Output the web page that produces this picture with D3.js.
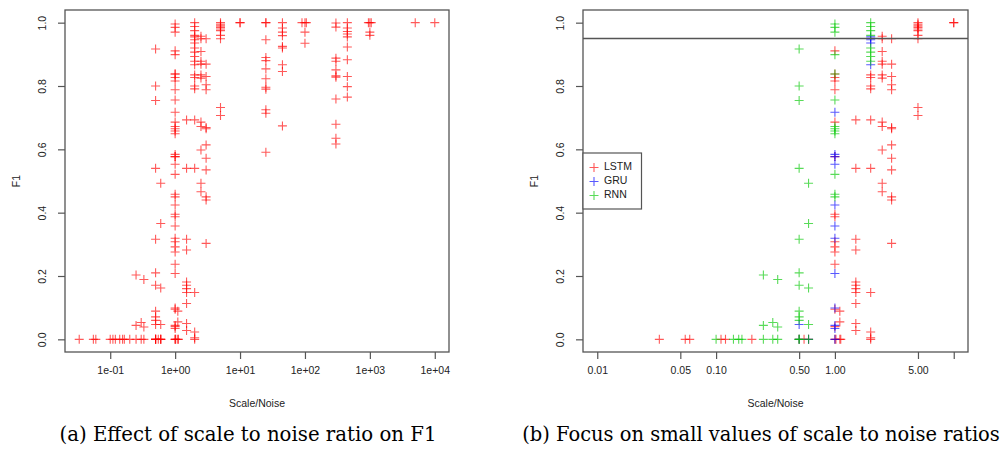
<!DOCTYPE html>
<html><head><meta charset="utf-8">
<script src="https://cdn.jsdelivr.net/npm/d3@7"></script>
<style>body{margin:0;background:#fff}svg{display:block}</style>
</head><body>
<svg id="c" width="1001" height="449"></svg>
<script>
// ---- data: [scale/noise ratio, F1] per model ----
const lstm = [
  [0.0333,0],[0.055,0],[0.06,0],[0.11,0],[0.12,0],[0.2,0],[0.5,0],[0.55,0],[0.6,0],
  [1,0.911],[1,0.838],[1,0.827],[1,0.816],[1,0.788],[1,0.686],[1,0.577],[1,0.395],[1,0.387],
  [1,0.308],[1,0.292],[1,0.276],[1,0.237],[1,0.095],[1,0.04],[1,0],[1.02,0],
  [1.1,0.089],[1.1,0.055],[1.1,0],[1.12,0],
  [1.5,0.693],[1.5,0.54],[1.5,0.316],[1.5,0.282],[1.5,0.181],[1.5,0.171],[1.5,0.16],
  [1.5,0.148],[1.5,0.113],[1.5,0.05],[1.5,0.028],
  [2,0.835],[2,0.827],[2,0.8],[2,0.791],[2,0.693],[2,0.54],[2,0.148],[2,0.023],[2,0],[2,0.005],
  [2.5,0.957],[2.5,0.949],[2.5,0.909],[2.5,0.878],[2.5,0.869],[2.5,0.835],[2.5,0.825],
  [2.5,0.686],[2.5,0.672],[2.5,0.598],[2.5,0.493],[2.5,0.466],
  [3,0.949],[3,0.869],[3,0.83],[3,0.804],[3,0.788],[3,0.669],[3,0.665],[3,0.614],
  [3,0.572],[3,0.535],[3,0.45],[3,0.44],[3,0.303],
  [5,1],[5,0.995],[5,0.99],[5,0.985],[5,0.98],[5,0.975],[5,0.96],[5,0.949],[5,0.732],[5,0.707],
  [10,1],[10,1],
  [25,1],[25,1],[25,0.946],[25,0.89],[25,0.88],[25,0.854],[25,0.823],[25,0.796],[25,0.79],
  [25,0.725],[25,0.714],[25,0.591],
  [45,1],[45,0.983],[45,0.97],[45,0.959],[45,0.925],[45,0.92],[45,0.867],[45,0.846],[45,0.674],
  [90,1],[105,1],[100,1],[100,0.97],[100,0.935],
  [300,0.999],[300,0.986],[300,0.888],[300,0.878],[300,0.851],[300,0.832],[300,0.828],
  [300,0.759],[300,0.679],[300,0.635],[300,0.617],
  [450,1],[450,0.983],[450,0.972],[450,0.964],[450,0.955],[450,0.923],[450,0.883],
  [450,0.83],[450,0.798],[450,0.765],
  [950,1],[1000,1],[1050,1],[1000,0.97],[1000,0.96],
  [5000,1],[10000,1]
];
const gru = [
  [0.5,0.047],[0.5,0],[0.6,0],
  [1,0.717],[1,0.584],[1,0.577],[1,0.553],[1,0.424],[1,0.358],[1,0.319],[1,0.208],
  [1,0.099],[1,0.044],[1,0.034],[1,0],
  [2,0.955],[2,0.946],[2,0.936],[2,0.867]
];
const rnn = [
  [0.1,0],[0.14,0],[0.155,0],[0.165,0],[0.25,0],[0.3,0],[0.33,0],[0.5,0],[0.5,0],[0.6,0],
  [0.25,0.203],[0.33,0.189],[0.25,0.044],[0.3,0.053],[0.33,0.039],
  [0.5,0.917],[0.5,0.8],[0.5,0.754],[0.5,0.54],[0.5,0.316],[0.5,0.21],[0.5,0.171],
  [0.5,0.089],[0.5,0.071],[0.5,0.06],
  [0.6,0.493],[0.6,0.366],[0.6,0.162],[0.6,0.047],
  [1,0.996],[1,0.985],[1,0.97],[1,0.899],[1,0.838],[1,0.756],[1,0.672],[1,0.665],[1,0.658],
  [1,0.649],[1,0.521],[1,0.458],[1,0.45],
  [2,1],[2,0.988],[2,0.975],[2,0.96],[2,0.92],[2,0.907],[2,0.893],[2,0.878]
];
const models = ["LSTM","GRU","RNN"];
const modelColors = ["#ff0000","#0000ff","#00c800"];
const yTicks = [0,0.2,0.4,0.6,0.8,1.0];
const xTicksA = [0.1,1,10,100,1000,10000];
const xTickLabelsA = ["1e-01","1e+00","1e+01","1e+02","1e+03","1e+04"];
const xTicksB = [0.01,0.05,0.1,0.5,1,5,10];
const xTickLabelsB = ["0.01","0.05","0.10","0.50","1.00","5.00",""];
const xLimB = [0.01,10];
const threshold = 0.95;
const captions = ["(a) Effect of scale to noise ratio on F1","(b) Focus on small values of scale to noise ratios"];

// ---- drawing ----
const svg = d3.select("#c");
svg.append("rect").attr("width",1001).attr("height",449).attr("fill","#fff");
const axisCol = "#555";
const plusPath = "M-4.5,0H4.5M0,-4.5V4.5";
const all = [lstm,gru,rnn];

function logPad(lo,hi){const a=Math.log10(lo),b=Math.log10(hi),p=(b-a)*0.04;return [Math.pow(10,a-p),Math.pow(10,b+p)];}

function panel(cfg){
  const g = svg.append("g");
  const x = d3.scaleLog().domain(cfg.xdom).range([cfg.left,cfg.right]);
  const y = d3.scaleLinear().domain([-0.04,1.04]).range([cfg.bottom,cfg.top]);
  // points
  const clip = "clip"+cfg.id;
  svg.append("clipPath").attr("id",clip).append("rect")
    .attr("x",cfg.left).attr("y",cfg.top).attr("width",cfg.right-cfg.left).attr("height",cfg.bottom-cfg.top);
  const pg = g.append("g").attr("clip-path","url(#"+clip+")");
  all.forEach((arr,i)=>{
    const pts = arr.filter(d=>d[0]>=cfg.xdom[0]&&d[0]<=cfg.xdom[1]);
    pg.append("g").selectAll("path").data(pts).join("path")
      .attr("d",plusPath)
      .attr("transform",d=>`translate(${x(d[0])},${y(d[1])})`)
      .attr("stroke",cfg.colored?modelColors[i]:modelColors[0])
      .attr("stroke-width",1.1).attr("stroke-opacity",0.65).attr("fill","none");
  });
  if(cfg.hline!==undefined){
    g.append("line").attr("x1",cfg.left).attr("x2",cfg.right).attr("y1",y(cfg.hline)).attr("y2",y(cfg.hline))
      .attr("stroke",axisCol).attr("stroke-width",1.3);
  }
  // box
  g.append("rect").attr("x",cfg.left).attr("y",cfg.top).attr("width",cfg.right-cfg.left).attr("height",cfg.bottom-cfg.top)
    .attr("fill","none").attr("stroke",axisCol).attr("stroke-width",1.3);
  // x axis
  const xa = d3.axisBottom(x).tickValues(cfg.xticks).tickSize(7).tickPadding(8)
    .tickFormat((d,i)=>cfg.xlabels[i]);
  const gx = g.append("g").attr("transform",`translate(0,${cfg.bottom})`).call(xa);
  gx.select(".domain").remove();
  gx.selectAll("line").attr("stroke",axisCol).attr("stroke-width",1.2);
  gx.selectAll("text").attr("font-family","Liberation Sans, Arial, sans-serif").attr("font-size",10.5).attr("fill","#222");
  // y axis
  const ya = d3.axisLeft(y).tickValues(yTicks).tickSize(7).tickFormat(d3.format(".1f"));
  const gy = g.append("g").attr("transform",`translate(${cfg.left},0)`).call(ya);
  gy.select(".domain").remove();
  gy.selectAll("line").attr("stroke",axisCol).attr("stroke-width",1.2);
  gy.selectAll("text").attr("font-family","Liberation Sans, Arial, sans-serif").attr("font-size",10.5).attr("fill","#222")
    .attr("text-anchor","middle").attr("dy",null).attr("x",null)
    .attr("transform","translate(-22,0) rotate(-90)").attr("dominant-baseline","middle");
  // titles
  g.append("text").attr("x",(cfg.left+cfg.right)/2).attr("y",407).attr("text-anchor","middle")
    .attr("font-family","Liberation Sans, Arial, sans-serif").attr("font-size",10.5).attr("fill","#222").text("Scale/Noise");
  g.append("text").attr("transform",`translate(${cfg.left-48},${(cfg.top+cfg.bottom)/2}) rotate(-90)`)
    .attr("text-anchor","middle").attr("dominant-baseline","middle")
    .attr("font-family","Liberation Sans, Arial, sans-serif").attr("font-size",10.5).attr("fill","#222").text("F1");
  // caption
  const cap = g.append("text").attr("x",cfg.capX).attr("y",441).attr("text-anchor","middle")
    .attr("font-family","DejaVu Serif, serif").attr("font-size",16).attr("fill","#000").text(cfg.caption);
  const w = cap.node().getComputedTextLength();
  cap.attr("font-size",16*cfg.capW/w);
  return {x,y,g};
}

const allPts = lstm.concat(gru,rnn).map(d=>d[0]);
panel({id:"a",left:65,right:449,top:10,bottom:352,xdom:logPad(d3.min(allPts),d3.max(allPts)),
  xticks:xTicksA,xlabels:xTickLabelsA,colored:false,caption:captions[0],capX:248,capW:377});
const pb = panel({id:"b",left:583,right:968,top:10,bottom:352,xdom:logPad(xLimB[0],xLimB[1]),
  xticks:xTicksB,xlabels:xTickLabelsB,colored:true,hline:threshold,caption:captions[1],capX:761,capW:478});

// legend
const lg = pb.g.append("g");
lg.append("rect").attr("x",583).attr("y",153).attr("width",58.5).attr("height",56)
  .attr("fill","#fff").attr("stroke",axisCol).attr("stroke-width",1.2);
models.forEach((m,i)=>{
  const yy = 167.5+i*14;
  lg.append("path").attr("d",plusPath).attr("transform",`translate(594,${yy})`)
    .attr("stroke",modelColors[i]).attr("stroke-width",1.1).attr("stroke-opacity",0.65).attr("fill","none");
  lg.append("text").attr("x",604).attr("y",yy).attr("dominant-baseline","middle")
    .attr("font-family","Liberation Sans, Arial, sans-serif").attr("font-size",10.5).attr("fill","#222").text(m);
});
</script>
</body></html>
